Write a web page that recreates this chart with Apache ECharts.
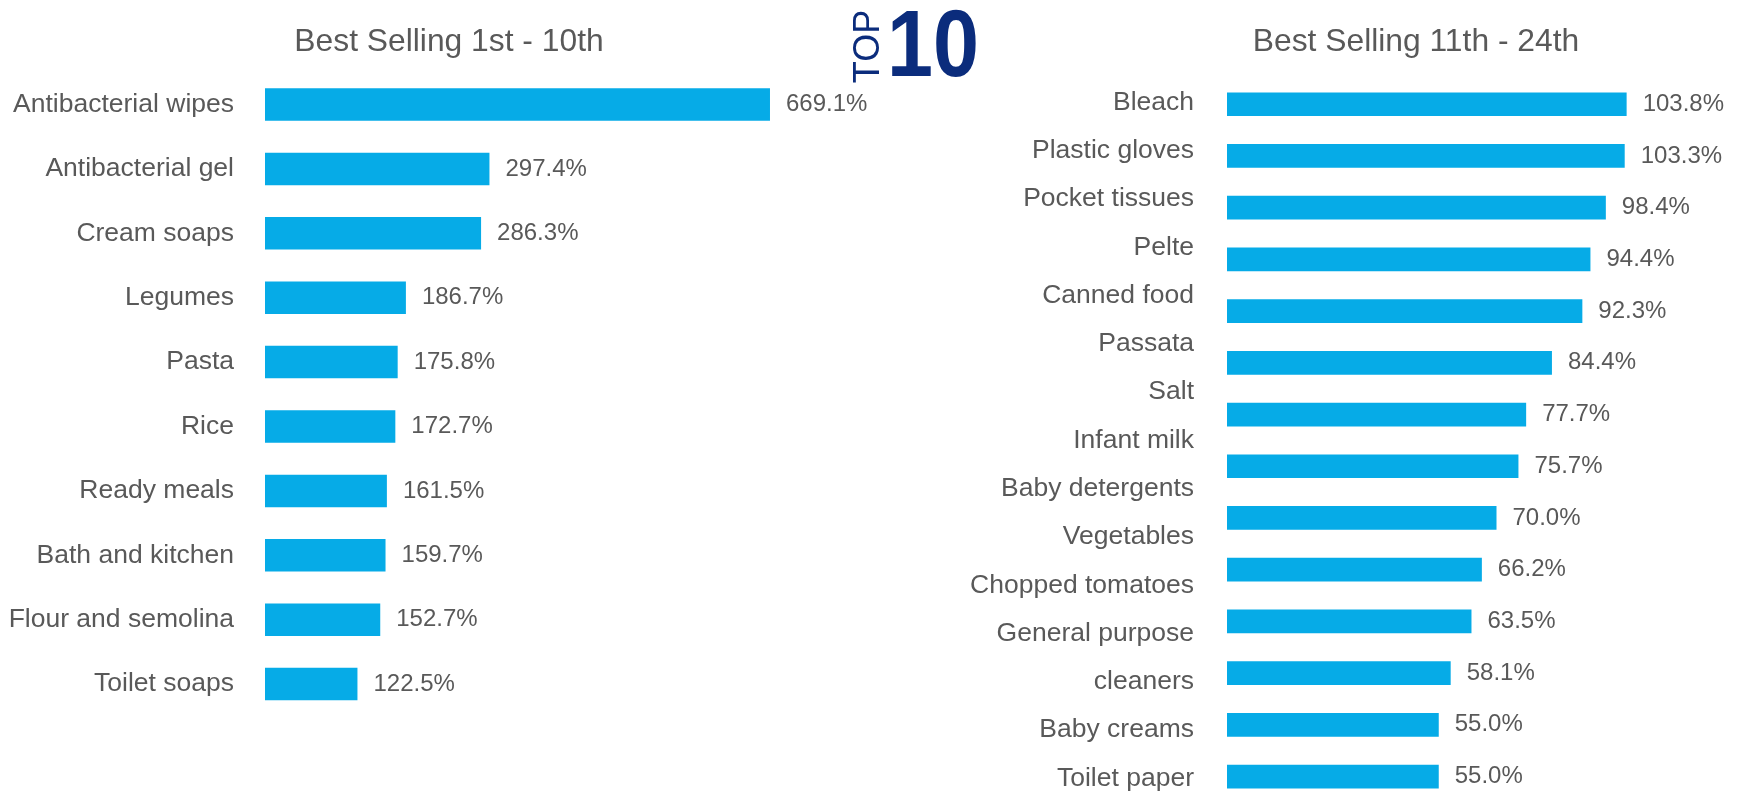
<!DOCTYPE html>
<html>
<head>
<meta charset="utf-8">
<script src="https://cdn.jsdelivr.net/npm/echarts@6/dist/echarts.min.js"></script>
<style>
html,body{margin:0;padding:0;background:#fff;}
#chart{width:1738px;height:791px;}
</style>
</head>
<body>
<div id="chart"></div>
<script>
// ---- data ----
const leftTitle = 'Best Selling 1st - 10th';
const rightTitle = 'Best Selling 11th - 24th';
const leftCategories = ['Antibacterial wipes','Antibacterial gel','Cream soaps','Legumes','Pasta','Rice','Ready meals','Bath and kitchen','Flour and semolina','Toilet soaps'];
const leftValues = [669.1, 297.4, 286.3, 186.7, 175.8, 172.7, 161.5, 159.7, 152.7, 122.5];
const rightCategories = ['Bleach','Plastic gloves','Pocket tissues','Pelte','Canned food','Passata','Salt','Infant milk','Baby detergents','Vegetables','Chopped tomatoes','General purpose cleaners','Baby creams','Toilet paper'];
const rightValues = [103.8, 103.3, 98.4, 94.4, 92.3, 84.4, 77.7, 75.7, 70.0, 66.2, 63.5, 58.1, 55.0, 55.0];
// text column of the right chart as laid out in the picture (15 lines)
const rightLabelLines = ['Bleach','Plastic gloves','Pocket tissues','Pelte','Canned food','Passata','Salt','Infant milk','Baby detergents','Vegetables','Chopped tomatoes','General purpose','cleaners','Baby creams','Toilet paper'];

const FONT = "'Liberation Sans', Arial, Helvetica, sans-serif";
const GRAY = '#595959';
const BLUE = '#06ABE7';
const NAVY = '#0B2C7C';

const chart = echarts.init(document.getElementById('chart'), null, {renderer: 'canvas'});

const valueLabel = {
  show: true,
  position: 'right',
  distance: 16,
  color: GRAY,
  fontSize: 24,
  fontFamily: FONT,
  formatter: p => p.value.toFixed(1) + '%'
};

const hiddenAxisParts = {
  axisLine: {show: false},
  axisTick: {show: false},
  splitLine: {show: false}
};

chart.setOption({
  animation: false,
  backgroundColor: '#ffffff',
  textStyle: {fontFamily: FONT},
  grid: [
    {left: 265, top: 72.3, width: 528.3, height: 644, outerBoundsMode: 'none', containLabel: false},
    {left: 1227, top: 78.4, width: 462, height: 724, outerBoundsMode: 'none', containLabel: false}
  ],
  xAxis: [
    Object.assign({type: 'value', gridIndex: 0, min: 0, max: 700, axisLabel: {show: false}}, hiddenAxisParts),
    Object.assign({type: 'value', gridIndex: 1, min: 0, max: 120, axisLabel: {show: false}}, hiddenAxisParts)
  ],
  yAxis: [
    Object.assign({
      type: 'category', gridIndex: 0, inverse: true, data: leftCategories,
      axisLabel: {color: GRAY, fontSize: 26.5, fontFamily: FONT, margin: 31, padding: [6, 0, 0, 0]}
    }, hiddenAxisParts),
    Object.assign({
      type: 'category', gridIndex: 1, inverse: true, data: rightCategories,
      axisLabel: {show: false}
    }, hiddenAxisParts),
    Object.assign({
      type: 'category', gridIndex: 1, inverse: true, position: 'left', data: rightLabelLines,
      axisLabel: {color: GRAY, fontSize: 26.5, fontFamily: FONT, margin: 33, padding: [12, 0, 0, 0]}
    }, hiddenAxisParts)
  ],
  series: [
    {
      type: 'bar', xAxisIndex: 0, yAxisIndex: 0, data: leftValues,
      barWidth: 32.5, itemStyle: {color: BLUE}, label: valueLabel
    },
    {
      type: 'bar', xAxisIndex: 1, yAxisIndex: 1, data: rightValues,
      barWidth: 23.7, itemStyle: {color: BLUE}, label: valueLabel
    }
  ],
  graphic: [
    {type: 'text', x: 449, y: 42, style: {text: leftTitle, fill: GRAY, font: '31.8px ' + FONT, align: 'center', verticalAlign: 'middle'}},
    {type: 'text', x: 1416, y: 42, style: {text: rightTitle, fill: GRAY, font: '31.8px ' + FONT, align: 'center', verticalAlign: 'middle'}},
    {type: 'text', x: 869.5, y: 46.5, rotation: Math.PI / 2, style: {text: 'TOP', fill: NAVY, font: '36px ' + FONT, align: 'center', verticalAlign: 'middle'}},
    {type: 'text', x: 933, y: 50.5, scaleX: 0.88, style: {text: '10', fill: NAVY, font: 'bold 94px ' + FONT, align: 'center', verticalAlign: 'middle'}}
  ]
});
</script>
</body>
</html>
